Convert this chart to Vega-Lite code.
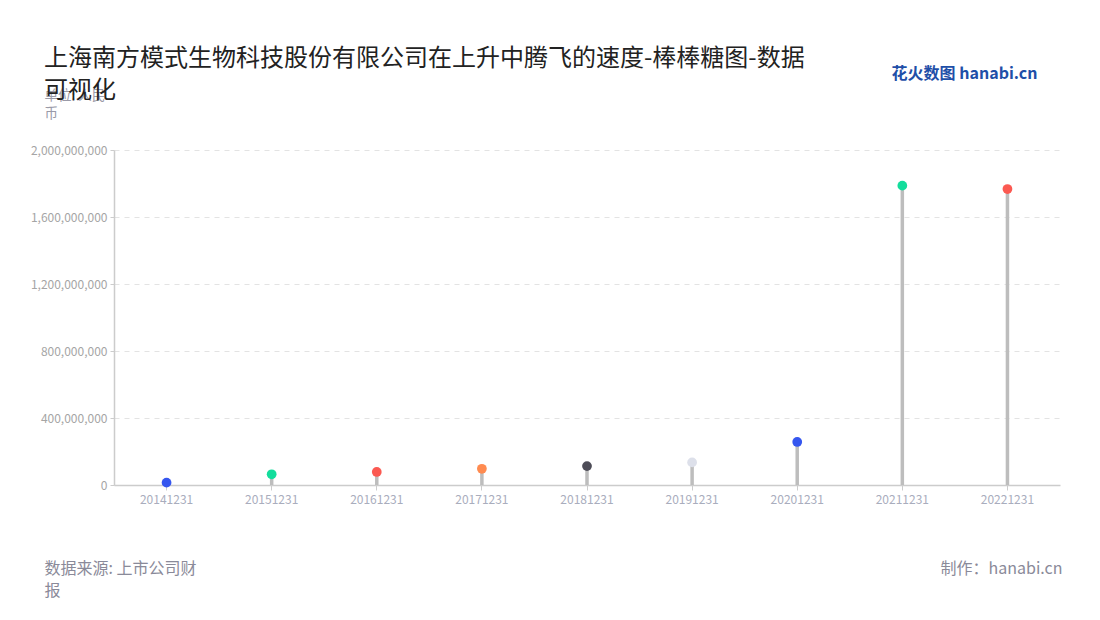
{
  "$schema": "https://vega.github.io/schema/vega-lite/v6.json",
  "width": 946,
  "height": 335,
  "autosize": {"type": "none"},
  "padding": {"left": 114, "top": 150, "right": 40, "bottom": 135},
  "background": "#ffffff",
  "title": {
    "text": ["上海南方模式生物科技股份有限公司在上升中腾飞的速度-棒棒糖图-数据", "可视化"],
    "anchor": "start",
    "frame": "group",
    "dx": -70,
    "dy": 88,
    "offset": 50,
    "font": "Noto Sans CJK SC",
    "fontSize": 24,
    "fontWeight": "normal",
    "color": "#222222",
    "lineHeight": 32
  },
  "config": {
    "view": {"stroke": null},
    "font": "Noto Sans CJK SC"
  },
  "data": {
    "values": [
      {"date": "20141231", "value": 14000000, "color": "#3556ef"},
      {"date": "20151231", "value": 64000000, "color": "#13dd9c"},
      {"date": "20161231", "value": 78000000, "color": "#fb5951"},
      {"date": "20171231", "value": 97000000, "color": "#ff8b50"},
      {"date": "20181231", "value": 113000000, "color": "#4d4c57"},
      {"date": "20191231", "value": 135000000, "color": "#dde0ea"},
      {"date": "20201231", "value": 257000000, "color": "#3556ef"},
      {"date": "20211231", "value": 1787000000, "color": "#13dd9c"},
      {"date": "20221231", "value": 1767000000, "color": "#fb5951"}
    ]
  },
  "resolve": {"axis": {"x": "independent", "y": "independent"}},
  "layer": [
    {
      "mark": {"type": "rule", "color": "#bdbdbd", "strokeWidth": 3.5},
      "encoding": {
        "x": {
          "field": "date",
          "type": "ordinal",
          "scale": {"paddingInner": 0, "paddingOuter": 0},
          "axis": {
            "orient": "bottom",
            "title": ["数据来源: 上市公司财", "报"],
            "titleAnchor": "start",
            "titleAlign": "left",
            "titleX": -70,
            "titleY": 88,
            "titleBaseline": "alphabetic",
            "titleFontSize": 16,
            "titleFontWeight": "normal",
            "titleColor": "#8a8a99",
            "titleLineHeight": 22,
            "labelAngle": 0,
            "labelColor": "#a9adbd",
            "labelFontSize": 12,
            "labelPadding": 4,
            "domainColor": "#cccccc",
            "domainWidth": 1.5,
            "tickColor": "#cccccc",
            "tickSize": 5,
            "grid": false
          }
        },
        "y": {
          "field": "value",
          "type": "quantitative",
          "scale": {"domain": [0, 2000000000], "nice": false},
          "axis": {
            "title": ["单位: 人民", "币"],
            "titleAngle": 0,
            "titleAlign": "left",
            "titleAnchor": "start",
            "titleX": -70,
            "titleY": -51,
            "titleBaseline": "alphabetic",
            "titleFontSize": 13.5,
            "titleFontWeight": "normal",
            "titleColor": "#9a9aa8",
            "titleLineHeight": 18,
            "format": ",d",
            "values": [0, 400000000, 800000000, 1200000000, 1600000000, 2000000000],
            "labelColor": "#a5a5a5",
            "labelFontSize": 12,
            "labelPadding": 3,
            "domainColor": "#cccccc",
            "domainWidth": 1.5,
            "tickColor": "#cccccc",
            "tickSize": 4,
            "grid": true,
            "gridColor": "#e3e3e3",
            "gridDash": [5, 5],
            "gridWidth": 1.2
          }
        }
      }
    },
    {
      "mark": {"type": "point", "filled": true, "opacity": 1, "size": 95, "shape": "circle"},
      "encoding": {
        "x": {
          "field": "date",
          "type": "ordinal",
          "scale": {"paddingInner": 0, "paddingOuter": 0},
          "axis": {
            "orient": "bottom",
            "title": "制作：hanabi.cn",
            "titleAnchor": "end",
            "titleAlign": "right",
            "titleX": 948,
            "titleY": 88,
            "titleBaseline": "alphabetic",
            "titleFontSize": 16,
            "titleFontWeight": "normal",
            "titleColor": "#8a8a99",
            "labels": false,
            "ticks": false,
            "domain": false,
            "grid": false
          }
        },
        "y": {
          "field": "value",
          "type": "quantitative",
          "scale": {"domain": [0, 2000000000], "nice": false},
          "axis": {
            "orient": "right",
            "title": "花火数图 hanabi.cn",
            "titleAngle": 0,
            "titleAlign": "right",
            "titleX": -23,
            "titleY": -72,
            "titleBaseline": "alphabetic",
            "titleFontSize": 16,
            "titleFontWeight": "bold",
            "titleColor": "#1f4fa8",
            "labels": false,
            "ticks": false,
            "domain": false,
            "grid": false
          }
        },
        "color": {"field": "color", "type": "nominal", "scale": null}
      }
    }
  ]
}
